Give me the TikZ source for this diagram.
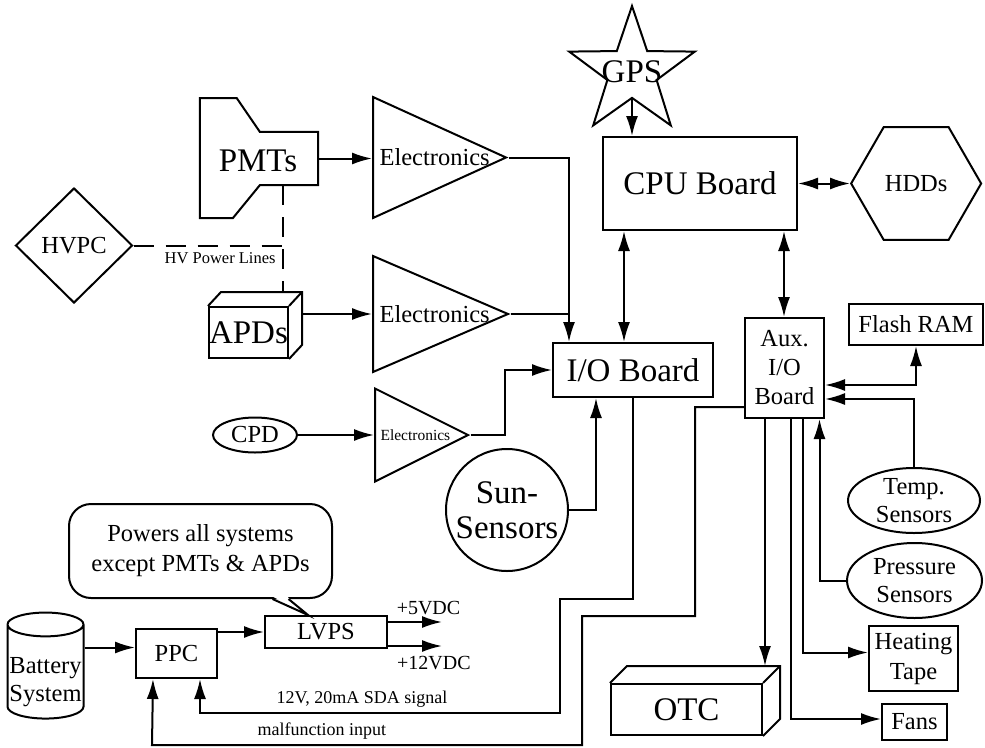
\documentclass[tikz,border=0pt]{standalone}
\usepackage{fontspec}
\setmainfont{Liberation Serif}
\usetikzlibrary{arrows.meta, positioning, shapes.geometric, calc}

\tikzset{
  wire/.style={line width=2pt},
  arr/.style={wire, -{Latex[length=20pt, width=12pt]}},
  darr/.style={wire, {Latex[length=20pt, width=12pt]}-{Latex[length=20pt, width=12pt]}},
  hv/.style={wire, dash pattern=on 20pt off 12pt},
  box/.style={draw, wire, inner sep=0pt},
  big/.style={font=\fontsize{33}{38}\selectfont},
  mid/.style={font=\fontsize{24.5}{29}\selectfont},
  sml/.style={font=\fontsize{18}{21}\selectfont},
  amp/.style={draw, wire, isosceles triangle, isosceles triangle stretches, inner sep=0pt, anchor=lower side},
}

\begin{document}
\begin{tikzpicture}[x=1pt, y=-1pt, every node/.style={mid}]
\useasboundingbox (0,0) rectangle (985,747);

% GPS, CPU, disks
\node[box, big, minimum width=194pt, minimum height=93pt] (cpu) at (700,183.5) {CPU Board};
\node[draw, wire, star, star points=5, star point ratio=2.55, minimum size=132pt, inner sep=0pt,
      label={[big]center:GPS}] (gps) at (632,72) {};
\node[draw, wire, regular polygon, regular polygon sides=6, minimum size=130pt, inner sep=0pt,
      right=52pt of cpu] (hdd) {HDDs};

% detectors
\node[minimum width=58pt, minimum height=53pt, inner sep=0pt] (pmt) at (289,158.5) {};
\draw[wire] (pmt.north west) -- (pmt.north east) -- (pmt.south east) -- (pmt.south west)
  -- ++(-27,33) -- ++(-33,0) -- ++(0,-120) -- ++(37,0) -- cycle;
\node[font=\fontsize{33}{40}\selectfont] (pmtt) at (258,161) {PMTs};

\node[box, font=\fontsize{33}{40}\selectfont, minimum width=79pt, minimum height=51pt] (apd) at (248.5,332.5) {APDs};
\draw[wire] (apd.north west) -- ++(13,-14) -| ([shift={(13,-14)}]apd.south east) -- (apd.south east);
\draw[wire] (apd.north east) -- ++(13,-14);

\node[draw, wire, diamond, minimum width=117pt, minimum height=115pt, inner sep=0pt] (hvpc) at (74,245.5) {HVPC};
\node[draw, wire, ellipse, minimum width=84pt, minimum height=35pt, inner sep=0pt] (cpd) at (255,435) {CPD};

% amplifiers
\node[amp, minimum width=121pt, minimum height=133pt] (el1) at (372,157.5) {};
\node[amp, minimum width=116pt, minimum height=135pt] (el2) at (372,314) {};
\node[amp, minimum width=93pt, minimum height=93pt] (el3) at (374,435) {};
\node[anchor=west] (el1t) at ([xshift=4pt]el1.lower side) {Electronics};
\node[anchor=west] (el2t) at ([xshift=4pt]el2.lower side) {Electronics};
\node[anchor=west, font=\fontsize{15.5}{18}\selectfont] (el3t) at ([xshift=3pt]el3.lower side) {Electronics};

% boards and housekeeping
\node[box, big, minimum width=160pt, minimum height=54pt] (io) at (633,370) {I/O Board};
\node[draw, wire, circle, minimum size=122pt, inner sep=0pt, align=center,
      font=\fontsize{33}{35}\selectfont] (sun) at (507,510) {Sun-\\Sensors};
\node[box, align=center, minimum width=79pt, minimum height=100pt] (aux) at (784.5,368) {Aux.\\I/O\\Board};
\node[box, minimum width=134pt, minimum height=41pt] (flash) at (916,324.5) {Flash RAM};
\node[draw, wire, ellipse, minimum width=132pt, minimum height=65pt, inner xsep=0pt, inner ysep=-3pt,
      align=center, font=\fontsize{24.5}{28}\selectfont] (temp) at (914,500.5) {Temp.\\Sensors};
\node[draw, wire, ellipse, minimum width=135pt, minimum height=75pt, inner xsep=0pt, inner ysep=-2pt,
      align=center, font=\fontsize{24.5}{28}\selectfont] (pres) at (914.5,580.5) {Pressure\\Sensors};
\node[box, align=center, minimum width=89pt, minimum height=65pt,
      font=\fontsize{24.5}{30}\selectfont] (heat) at (913.5,658.5) {Heating\\Tape};
\node[box, minimum width=65pt, minimum height=36pt] (fans) at (914.5,722) {Fans};
\node[box, big, minimum width=151pt, minimum height=51pt] (otc) at (686.5,709.5) {OTC};
\draw[wire] (otc.north west) -- ++(17,-17) -| ([shift={(17,-17)}]otc.south east) -- (otc.south east);
\draw[wire] (otc.north east) -- ++(17,-17);

% power
\node[draw, wire, cylinder, shape border rotate=90, aspect=0.33, minimum width=76pt, minimum height=106pt,
      inner sep=0pt, align=center, font=\fontsize{24.5}{28}\selectfont,
      label={[yshift=-10pt, align=center, font=\fontsize{24.5}{28}\selectfont]center:Battery\\System}]
      (batt) at (45.5,672) {\phantom{Battery}\\\phantom{System}};
\node[box, minimum width=81pt, minimum height=49pt] (ppc) at (176.5,653.5) {PPC};
\node[box, minimum width=122pt, minimum height=32pt] (lvps) at (326,632) {LVPS};
\node[draw, wire, rounded corners=22pt, minimum width=263pt, minimum height=94pt, align=center,
      font=\fontsize{24.5}{30}\selectfont] (note) at (200.5,551) {Powers all systems\\except PMTs \& APDs};
\coordinate (tip) at ([xshift=-18pt]lvps.north);
\fill[white] ([xshift=73pt, yshift=2pt]note.south) -- (tip) -- ([xshift=87pt, yshift=2pt]note.south) -- cycle;
\draw[wire] ([xshift=72pt]note.south) -- (tip) -- ([xshift=88pt]note.south);

% connectors
\draw[arr] (gps.inner point 3) -- (gps.inner point 3 |- cpu.north);
\draw[darr] (cpu.east) -- (hdd.west);
\draw[arr] (pmt.east) -- (pmt.east -| el1.lower side);
\coordinate (apdR) at ([xshift=13pt]apd.east);
\draw[arr] (apdR |- el2.lower side) -- (el2.lower side);
\draw[arr] (cpd.east) -- (el3.lower side);

\coordinate (apdtop) at ([yshift=14pt]apd.north);
\coordinate (hvtop) at ([xshift=23pt]pmt.south west);
\draw[hv] (hvtop) -- (apdtop -| hvtop);
\draw[hv] (hvpc.east) -- (hvpc.east -| hvtop) node[pos=0.58, below=3pt, font=\fontsize{16.5}{20}\selectfont] (hvl) {HV Power Lines};

\coordinate (ioin) at ([xshift=17pt]io.north west);
\draw[arr] (el1.apex) -| (ioin);
\draw[wire] (el2.apex) -- (el2.apex -| ioin);
\draw[arr] (el3.apex) -- ++(34,0) |- (io.west);
\draw[darr] ([xshift=22pt]cpu.south west) coordinate (cpuio) -- (cpuio |- io.north);
\draw[darr] ([xshift=-14pt]cpu.south east) coordinate (cpuaux) -- (cpuaux |- aux.north);
\draw[arr] (sun.east) -| ([xshift=44pt]io.south west);

\draw[darr] ([yshift=-17pt]aux.east) -| (flash.south);
\draw[arr] (temp.north) |- ([yshift=-31pt]aux.east);
\draw[arr] (pres.west) -| ([xshift=-5.5pt]aux.south east);
\coordinate (otctop) at ([yshift=17pt]otc.north);
\draw[arr] ([xshift=21pt]aux.south west) coordinate (auxotc) -- (auxotc |- otctop);
\draw[arr] ([xshift=59pt]aux.south west) |- ([yshift=6pt]heat.west);
\draw[arr] ([xshift=47pt]aux.south west) |- ([yshift=3pt]fans.west);

\coordinate (ppcin) at ([yshift=6pt]ppc.west);
\draw[arr] (batt.east |- ppcin) -- (ppcin);
\draw[arr] (ppc.east |- lvps.west) -- (lvps.west);
\draw[arr] ([yshift=10pt]lvps.east) -- ++(54,0) node[pos=0.75, above=3pt, font=\fontsize{20}{24}\selectfont] (v5) {+5VDC};
\draw[arr] ([yshift=-14pt]lvps.east) -- ++(54,0) node[pos=0.85, below=6pt, font=\fontsize{20}{24}\selectfont] (v12) {+12VDC};

\coordinate (sdain) at ([xshift=23.5pt]ppc.south);
\coordinate (mfin) at ([xshift=-23.5pt]ppc.south);
\draw[arr] (io.south) -- ++(0,201) -- ++(-73,0) -- ++(0,114)
  -- node[pos=0.55, above=1pt, sml] (sdal) {12V, 20mA SDA signal} ++(-360,0) -- (sdain);
\coordinate (auxout) at ([yshift=-39pt]aux.west);
\draw[arr] (auxout) -- ++(-49,0) -- ++(0,209) -- ++(-113,0) -- ++(0,129)
  -- node[pos=0.605, above=1pt, sml] (mfl) {malfunction input} ++(-430,0) -- (mfin);
\end{tikzpicture}
\end{document}
